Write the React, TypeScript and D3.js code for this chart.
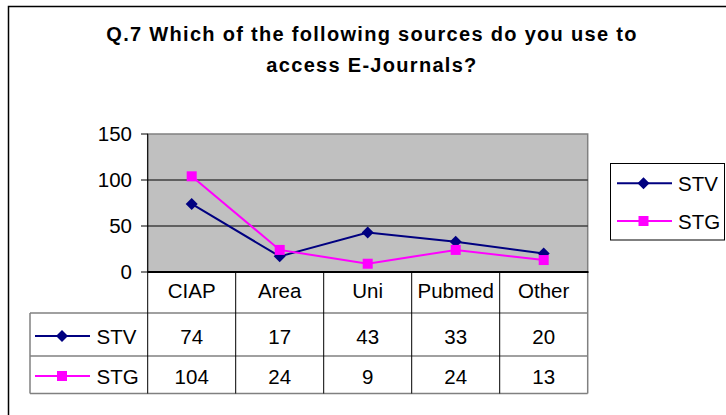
import React from "react";
import * as d3 from "d3";

const categories = ["CIAP", "Area", "Uni", "Pubmed", "Other"];
const stvValues = [74, 17, 43, 33, 20];
const stgValues = [104, 24, 9, 24, 13];
const yTicks = [0, 50, 100, 150];
const titleLines = ["Q.7 Which of the following sources do you use to", "access E-Journals?"];

const series = [
  { name: "STV", values: stvValues, color: "#000080", marker: "diamond" },
  { name: "STG", values: stgValues, color: "#FF00FF", marker: "square" },
];

const W = 726;
const H = 415;
const plotLeft = 147.7;
const plotRight = 587.7;
const plotTop = 134;
const plotBottom = 272;
const FONT = "'Liberation Sans', Arial, sans-serif";
const FS = 20.5;

function Marker({ type, x, y, color }: { type: string; x: number; y: number; color: string }) {
  if (type === "diamond") {
    const r = 6;
    return <path d={`M${x},${y - r}L${x + r},${y}L${x},${y + r}L${x - r},${y}Z`} fill={color} />;
  }
  const s = 10;
  return <rect x={x - s / 2} y={y - s / 2} width={s} height={s} fill={color} />;
}

export default function App() {
  const x = d3.scaleBand<string>().domain(categories).range([plotLeft, plotRight]).padding(0);
  const y = d3.scaleLinear().domain([0, 150]).range([plotBottom, plotTop]);
  const cx = (c: string) => (x(c) as number) + x.bandwidth() / 2;

  const line = d3
    .line<number>()
    .x((_, i) => cx(categories[i]))
    .y((d) => y(d));

  const headerBottom = 313;
  const rowBottoms = [356, 393.5];
  const tableLeft = 30;
  const rowMid = [336, 376];

  return (
    <svg
      width={W}
      height={H}
      style={{ position: "absolute", left: 0, top: 0, background: "#fff" }}
      fontFamily={FONT}
    >
      <rect x={0} y={0} width={W} height={H} fill="#fff" />
      {/* outer frame */}
      <path d={`M8.5,${H + 2}V6.5H${W + 2}`} fill="none" stroke="#000" strokeWidth={1.5} />

      {/* title */}
      {titleLines.map((t, i) => (
        <text
          key={i}
          x={372}
          y={41 + i * 31}
          textAnchor="middle"
          fontSize={20}
          fontWeight="bold"
          letterSpacing={1.3}
          fill="#000"
        >
          {t}
        </text>
      ))}

      {/* plot area */}
      <rect
        x={plotLeft}
        y={plotTop}
        width={plotRight - plotLeft}
        height={plotBottom - plotTop}
        fill="#C0C0C0"
        stroke="#808080"
        strokeWidth={1.5}
      />
      {yTicks
        .filter((t) => t > 0 && t < 150)
        .map((t) => (
          <line key={t} x1={plotLeft} x2={plotRight} y1={y(t)} y2={y(t)} stroke="#000" strokeWidth={1} />
        ))}
      {/* y axis ticks and labels */}
      <line x1={plotLeft} x2={plotLeft} y1={plotTop} y2={plotBottom} stroke="#000" strokeWidth={1} />
      {yTicks.map((t) => (
        <g key={t}>
          <line x1={141} x2={plotLeft} y1={y(t)} y2={y(t)} stroke="#000" strokeWidth={1} />
          <text x={132} y={y(t) + 7} textAnchor="end" fontSize={FS} fill="#000">
            {t}
          </text>
        </g>
      ))}

      {/* series */}
      {series.map((s) => (
        <g key={s.name}>
          <path d={line(s.values) || ""} fill="none" stroke={s.color} strokeWidth={2} />
          {s.values.map((v, i) => (
            <Marker key={i} type={s.marker} x={cx(categories[i])} y={y(v)} color={s.color} />
          ))}
        </g>
      ))}

      {/* data table */}
      <line x1={plotLeft} x2={plotRight} y1={headerBottom} y2={headerBottom} stroke="#808080" strokeWidth={1.5} />
      <line x1={tableLeft} x2={plotLeft} y1={headerBottom} y2={headerBottom} stroke="#808080" strokeWidth={1.5} />
      {rowBottoms.map((rb, i) => (
        <line key={i} x1={tableLeft} x2={plotRight} y1={rb} y2={rb} stroke="#808080" strokeWidth={1.5} />
      ))}
      <line x1={tableLeft} x2={tableLeft} y1={headerBottom} y2={rowBottoms[1]} stroke="#808080" strokeWidth={1.5} />
      {categories.map((c) => (
        <line key={c} x1={x(c)} x2={x(c)} y1={plotBottom} y2={rowBottoms[1]} stroke="#000" strokeWidth={1} />
      ))}
      <line x1={plotRight} x2={plotRight} y1={plotBottom} y2={rowBottoms[1]} stroke="#808080" strokeWidth={1.5} />
      <line x1={plotLeft} x2={plotRight + 0.75} y1={plotBottom} y2={plotBottom} stroke="#000" strokeWidth={2} />

      {/* category labels */}
      {categories.map((c) => (
        <text key={c} x={cx(c)} y={298} textAnchor="middle" fontSize={FS} fill="#000">
          {c}
        </text>
      ))}

      {/* rows */}
      {series.map((s, si) => (
        <g key={s.name}>
          <line x1={35} x2={90} y1={rowMid[si]} y2={rowMid[si]} stroke={s.color} strokeWidth={2} />
          <Marker type={s.marker} x={62} y={rowMid[si]} color={s.color} />
          <text x={96.5} y={rowMid[si] + 7.5} fontSize={FS} fill="#000">
            {s.name}
          </text>
          {s.values.map((v, i) => (
            <text key={i} x={cx(categories[i])} y={rowMid[si] + 7.5} textAnchor="middle" fontSize={FS} fill="#000">
              {v}
            </text>
          ))}
        </g>
      ))}

      {/* legend */}
      <rect x={610.5} y={163.5} width={114} height={76.5} fill="#fff" stroke="#000" strokeWidth={1} />
      {series.map((s, si) => {
        const ly = [183.3, 221][si];
        return (
          <g key={s.name}>
            <line x1={617} x2={672} y1={ly} y2={ly} stroke={s.color} strokeWidth={2} />
            <Marker type={s.marker} x={643.5} y={ly} color={s.color} />
            <text x={678} y={ly + 7.5} fontSize={FS} fill="#000">
              {s.name}
            </text>
          </g>
        );
      })}
    </svg>
  );
}
